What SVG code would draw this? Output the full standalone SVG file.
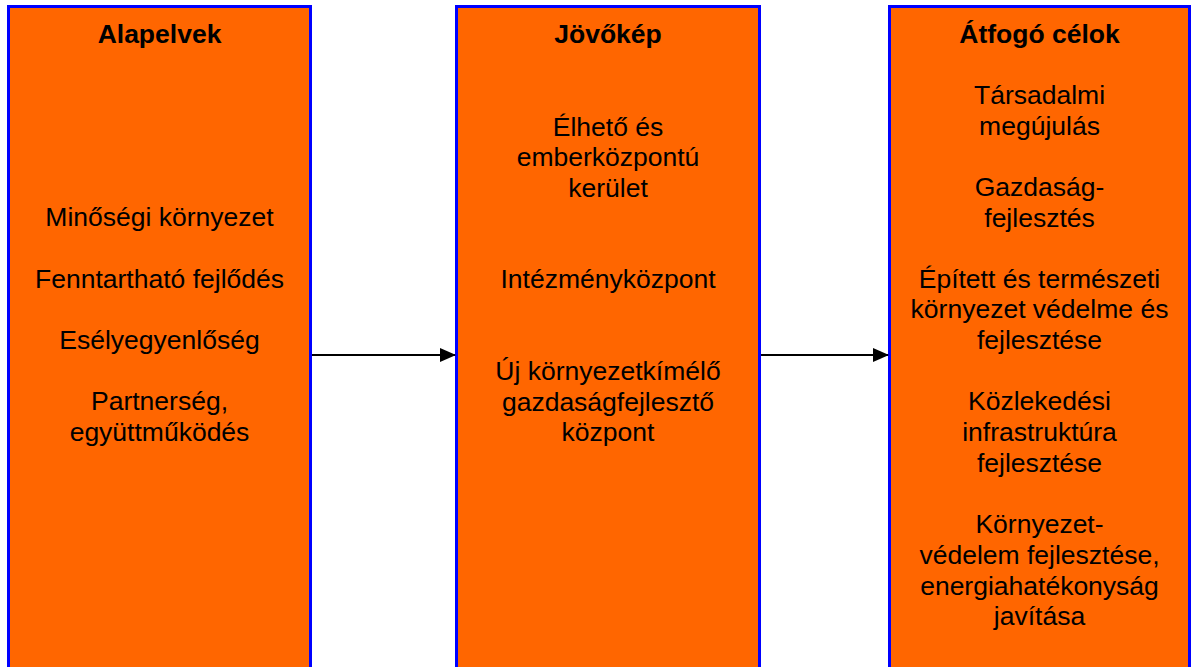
<svg xmlns="http://www.w3.org/2000/svg" width="1192" height="667" viewBox="0 0 1192 667">
<style>
.box{fill:#FF6600;stroke:#0000FF;stroke-width:3}
.t{font-family:"Liberation Sans",Arial,sans-serif;font-size:26.5px;fill:#000;text-anchor:middle}
.b{font-weight:bold}
.c{stroke:#000;stroke-width:2;fill:none}
</style>
<defs>
<marker id="ah" markerWidth="16" markerHeight="14" refX="15" refY="7" orient="auto" markerUnits="userSpaceOnUse">
<path d="M0,0 L16,7 L0,14 Z" fill="#000"/>
</marker>
</defs>
<rect width="1192" height="667" fill="#fff"/>
<g id="alapelvek">
<rect class="box" x="8.5" y="6.5" width="302" height="670"/>
<text class="t b" x="159.5" y="43">Alapelvek</text>
<text class="t" x="159.5" y="226">Minőségi környezet</text>
<text class="t" x="159.5" y="288">Fenntartható fejlődés</text>
<text class="t" x="159.5" y="349">Esélyegyenlőség</text>
<text class="t" x="159.5" y="410">Partnerség,</text>
<text class="t" x="159.5" y="441">együttműködés</text>
</g>
<g id="jovokep">
<rect class="box" x="456.5" y="6.5" width="303" height="670"/>
<text class="t b" x="608" y="43">Jövőkép</text>
<text class="t" x="608" y="136">Élhető és</text>
<text class="t" x="608" y="166">emberközpontú</text>
<text class="t" x="608" y="197">kerület</text>
<text class="t" x="608" y="288">Intézményközpont</text>
<text class="t" x="608" y="380">Új környezetkímélő</text>
<text class="t" x="608" y="411">gazdaságfejlesztő</text>
<text class="t" x="608" y="441">központ</text>
</g>
<g id="atfogo">
<rect class="box" x="889.5" y="6.5" width="300" height="670"/>
<text class="t b" x="1039.5" y="43">Átfogó célok</text>
<text class="t" x="1039.5" y="104">Társadalmi</text>
<text class="t" x="1039.5" y="135">megújulás</text>
<text class="t" x="1039.5" y="196">Gazdaság-</text>
<text class="t" x="1039.5" y="227">fejlesztés</text>
<text class="t" x="1039.5" y="288">Épített és természeti</text>
<text class="t" x="1039.5" y="318">környezet védelme és</text>
<text class="t" x="1039.5" y="349">fejlesztése</text>
<text class="t" x="1039.5" y="410">Közlekedési</text>
<text class="t" x="1039.5" y="441">infrastruktúra</text>
<text class="t" x="1039.5" y="472">fejlesztése</text>
<text class="t" x="1039.5" y="533">Környezet-</text>
<text class="t" x="1039.5" y="564">védelem fejlesztése,</text>
<text class="t" x="1039.5" y="595">energiahatékonyság</text>
<text class="t" x="1039.5" y="625">javítása</text>
</g>
<g id="connectors">
<line class="c" x1="312" y1="355" x2="455" y2="355" marker-end="url(#ah)"/>
<line class="c" x1="761" y1="355" x2="888" y2="355" marker-end="url(#ah)"/>
</g>
</svg>
